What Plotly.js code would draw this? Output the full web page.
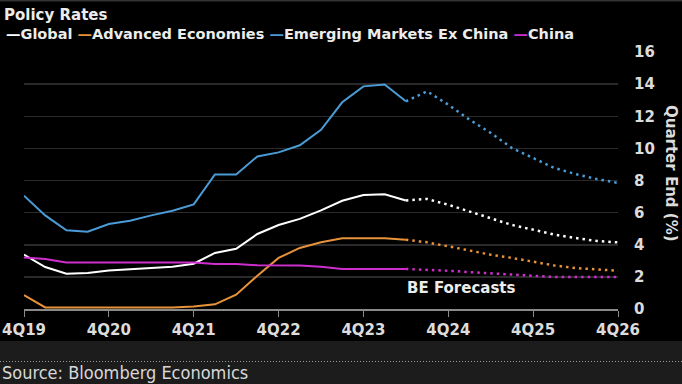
<!DOCTYPE html>
<html>
<head>
<meta charset="utf-8">
<script src="https://cdn.plot.ly/plotly-3.0.1.min.js"></script>
<style>
html,body{margin:0;padding:0;background:#000;}
#chart{width:682px;height:384px;}
</style>
</head>
<body>
<div id="chart"></div>
<script>
// ---- data ----
const quarters = [
  "4Q19","1Q20","2Q20","3Q20","4Q20","1Q21","2Q21","3Q21","4Q21",
  "1Q22","2Q22","3Q22","4Q22","1Q23","2Q23","3Q23","4Q23",
  "1Q24","2Q24","3Q24","4Q24","1Q25","2Q25","3Q25","4Q25",
  "1Q26","2Q26","3Q26","4Q26"
];
const tickLabels = ["4Q19","4Q20","4Q21","4Q22","4Q23","4Q24","4Q25","4Q26"];
const seriesNames = ["Global","Advanced Economies","Emerging Markets Ex China","China"];
const lastActualIndex = 18;

const globalRates = [3.38,2.61,2.20,2.24,2.40,2.47,2.55,2.63,2.82,3.49,3.75,4.67,5.23,5.61,6.14,6.74,7.10,7.14,6.76,
                     6.85,6.49,6.08,5.67,5.23,4.94,4.63,4.42,4.23,4.15];
const advancedRates = [0.87,0.10,0.10,0.10,0.10,0.10,0.10,0.10,0.15,0.29,0.89,2.07,3.18,3.80,4.15,4.40,4.40,4.40,4.31,
                       4.15,3.90,3.65,3.38,3.18,2.96,2.71,2.55,2.45,2.38];
const emExChinaRates = [7.05,5.83,4.90,4.81,5.29,5.50,5.83,6.12,6.51,8.38,8.38,9.50,9.75,10.19,11.16,12.87,13.86,13.98,12.93,
                        13.55,12.72,11.79,10.96,10.02,9.40,8.78,8.40,8.09,7.85];
const chinaRates = [3.21,3.11,2.90,2.90,2.90,2.90,2.90,2.90,2.90,2.80,2.80,2.72,2.72,2.71,2.63,2.49,2.49,2.49,2.49,
                    2.45,2.38,2.30,2.22,2.14,2.03,1.99,1.99,1.99,1.99];

// ---- styles ----
const colors = ["#ffffff","#e8923a","#4b9cd6","#cf2ecf"];
const FONT = "DejaVu Sans, Verdana, sans-serif";

const allSeries = [globalRates, advancedRates, emExChinaRates, chinaRates];
const traces = [];
allSeries.forEach((vals, k) => {
  const actual = vals.map((v,i) => i <= lastActualIndex ? v : null);
  const fcst = vals.map((v,i) => i >= lastActualIndex ? v : null);
  traces.push({
    x: quarters, y: actual, type: "scatter", mode: "lines",
    name: seriesNames[k], line: {color: colors[k], width: 2}, hoverinfo: "skip", showlegend: false
  });
  traces.push({
    x: quarters, y: fcst, type: "scatter", mode: "lines",
    name: seriesNames[k] + " forecast", line: {color: colors[k], width: 2.5, dash: "2.5px,4px"}, hoverinfo: "skip", showlegend: false
  });
});

const legendText = seriesNames.map((n,k) =>
  '<span style="color:' + colors[k] + '">—</span>' + n).join(" ");

const L = 24, R = 64, T = 52, B = 75, W = 682, H = 384;
const pw = W - L - R, ph = H - T - B;
const px = v => (v - L) / pw;
const py = v => (H - B - v) / ph;

const layout = {
  width: W, height: H,
  margin: {l: L, r: R, t: T, b: B, pad: 0},
  paper_bgcolor: "#000", plot_bgcolor: "#000",
  font: {family: FONT, color: "#dcdcdc", size: 14},
  showlegend: false,
  title: {text: "<b>Policy Rates</b>", xref: "container", yref: "container",
          x: 4/W, xanchor: "left", y: 1 - 15/H, yanchor: "middle",
          font: {family: FONT, size: 15, color: "#ececec"}},
  xaxis: {
    type: "category", range: [0, quarters.length - 1],
    tickmode: "array", tickvals: tickLabels, ticktext: tickLabels.map(t => "<b>" + t + "</b>"),
    ticks: "outside", ticklen: 6, tickcolor: "#8a8a8a", tickwidth: 1,
    showline: true, linecolor: "#8a8a8a", linewidth: 2,
    showgrid: false, zeroline: false,
    tickfont: {family: FONT, size: 15, color: "#dcdcdc"}
  },
  yaxis: {
    side: "right", range: [0, 16], dtick: 2, tick0: 0,
    showgrid: true, gridcolor: "#2a2a2a", gridwidth: 1.5,
    zeroline: false, showline: false,
    ticks: "outside", ticklen: 12, tickcolor: "rgba(0,0,0,0)",
    tickvals: [0,2,4,6,8,10,12,14,16],
    ticktext: [0,2,4,6,8,10,12,14,16].map(v => "<b>" + v + "</b>"),
    tickfont: {family: FONT, size: 15, color: "#dcdcdc"}
  },
  shapes: [
    {type: "rect", xref: "paper", yref: "paper", x0: px(-2), x1: px(W + 2), y0: py(341), y1: py(H + 2),
     fillcolor: "#1c1c1c", line: {width: 0}, layer: "below"},
    {type: "line", xref: "paper", yref: "paper", x0: px(0), x1: px(W), y0: py(361.5), y1: py(361.5),
     line: {color: "#9a9a9a", width: 1, dash: "1px,2px"}},
    {type: "line", xref: "paper", yref: "paper", x0: px(0), x1: px(W), y0: py(0.5), y1: py(0.5),
     line: {color: "#333", width: 2}}
  ],
  annotations: [
    {text: "<b>" + legendText + "</b>", xref: "paper", yref: "paper", x: px(4), y: py(34),
     xanchor: "left", yanchor: "middle", showarrow: false,
     font: {family: FONT, size: 14.5, color: "#ececec"}},
    {text: "<b>Quarter End (%)</b>", xref: "paper", yref: "paper", x: px(671), y: py(173),
     xanchor: "center", yanchor: "middle", textangle: 90, showarrow: false,
     font: {family: FONT, size: 15, color: "#dcdcdc"}},
    {text: "<b>BE Forecasts</b>", xref: "paper", yref: "paper", x: px(461), y: py(288),
     xanchor: "center", yanchor: "middle", showarrow: false,
     font: {family: FONT, size: 15, color: "#ececec"}},
    {text: "Source: Bloomberg Economics", xref: "paper", yref: "paper", x: px(0), y: py(372),
     xanchor: "left", yanchor: "middle", showarrow: false,
     font: {family: "DejaVu Sans Condensed, DejaVu Sans, sans-serif", size: 18, color: "#d8d8d8"}}
  ]
};

Plotly.newPlot("chart", traces, layout, {staticPlot: true, displayModeBar: false});
</script>
</body>
</html>
